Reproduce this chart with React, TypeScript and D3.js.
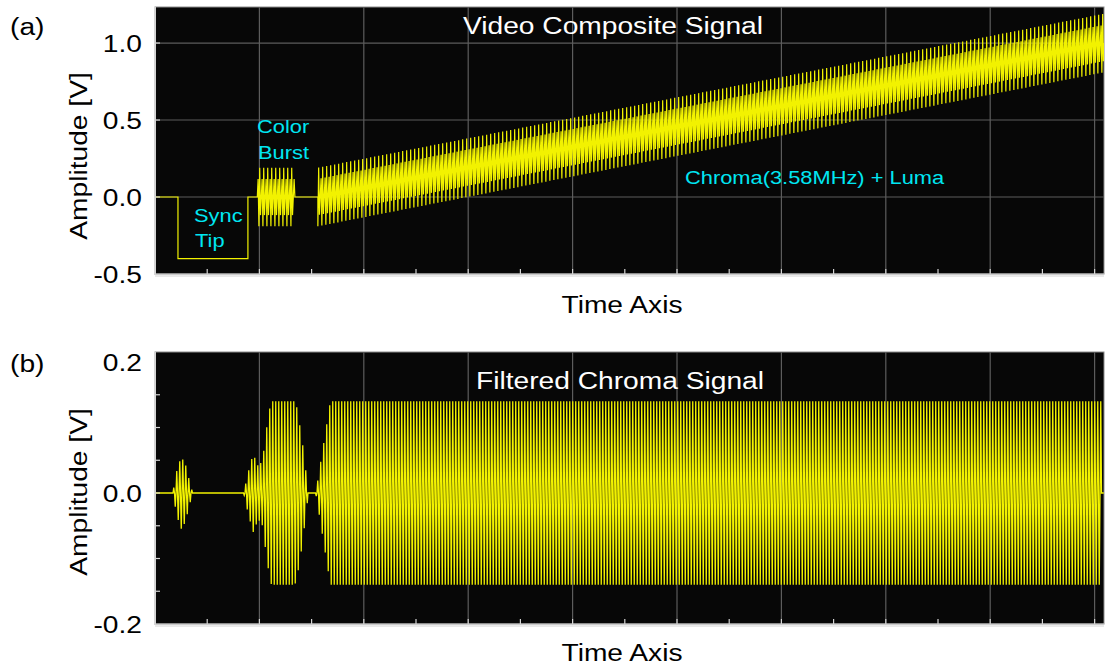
import React from "react";
import * as d3 from "d3";

// ---------- data ----------
// Panel (a): composite video line, piecewise segments (x in time-axis grid units)
const compSegStart = [0, 0.22, 0.89, 0.98, 1.34, 1.56];
const compSegEnd = [0.22, 0.89, 0.98, 1.34, 1.56, 9.09];
const compLevelStart = [0, -0.4, 0, 0, 0, 0];
const compLevelEnd = [0, -0.4, 0, 0, 0, 1.0];
const compChromaAmp = [0, 0, 0, 0.2, 0, 0.2];

// Panel (b): filtered chroma envelope (pre-clip amplitude) and clip level
const chromaEnvTime = [0, 0.17, 0.21, 0.25, 0.29, 0.32, 0.36, 0.85, 0.89, 0.94, 0.99, 1.03, 1.07, 1.10, 1.13, 1.32, 1.36, 1.41, 1.47, 1.54, 1.59, 1.64, 1.69, 9.06, 9.07, 9.09];
const chromaEnvAmp = [0, 0, 0.035, 0.055, 0.045, 0.025, 0, 0, 0.03, 0.06, 0.04, 0.05, 0.1, 0.13, 0.15, 0.15, 0.13, 0.08, 0, 0, 0.05, 0.1, 0.15, 0.15, 0, 0];
const chromaClip = 0.14;

// axes
const xDomain = [0, 9.09];
const xMajorTicks = [1, 2, 3, 4, 5, 6, 7, 8, 9];
const xMinorTicks = [0.5, 1, 1.5, 2, 2.5, 3, 3.5, 4, 4.5, 5, 5.5, 6, 6.5, 7, 7.5, 8, 8.5, 9];
const yTicksA = [-0.5, 0, 0.5, 1.0];
const yGridA = [0, 0.5, 1.0];
const yTicksB = [-0.2, 0, 0.2];
const yMinorB = [-0.15, -0.1, -0.05, 0, 0.05, 0.1, 0.15];

const FONT = "'Liberation Sans', Arial, Helvetica, sans-serif";
const SX = 1.15;

const L = 155, R = 1104;
const A_TOP = 7, A_BOT = 274;
const B_TOP = 352, B_BOT = 624;

const xScale = d3.scaleLinear().domain(xDomain).range([L, R]);
const yA = d3.scaleLinear().domain([-0.5, 1.234]).range([A_BOT, A_TOP]);
const yB = d3.scaleLinear().domain([-0.2, 0.2153]).range([B_BOT, B_TOP]);

function compositeSamples(): [number, number][] {
  const ds = xScale.invert(L + 0.8) - xScale.invert(L);
  const theta = 2 * Math.PI * 0.4;
  const pts: [number, number][] = [];
  let k = 0;
  for (let i = 0; i < compSegStart.length; i++) {
    const s = compSegStart[i], e = compSegEnd[i];
    const lv = (t: number) => compLevelStart[i] + (compLevelEnd[i] - compLevelStart[i]) * (t - s) / (e - s);
    if (compChromaAmp[i] === 0) {
      pts.push([s, lv(s)], [e, lv(e)]);
    } else {
      pts.push([s, lv(s)]);
      for (let t = s; t <= e; t += ds) {
        pts.push([t, lv(t) + compChromaAmp[i] * Math.sin(k * theta)]);
        k++;
      }
      pts.push([e, lv(e)]);
    }
  }
  return pts;
}

function chromaSamples(): [number, number][] {
  const ds = xScale.invert(L + 0.75) - xScale.invert(L);
  const env = d3.scaleLinear().domain(chromaEnvTime).range(chromaEnvAmp).clamp(true);
  const theta = 2 * Math.PI * 0.25;
  const pts: [number, number][] = [];
  let k = 0;
  for (let t = xDomain[0]; t <= xDomain[1]; t += ds) {
    const v = env(t) * Math.sin(k * theta);
    pts.push([t, Math.max(-chromaClip, Math.min(chromaClip, v))]);
    k++;
  }
  return pts;
}

function SText(props: { x: number; y: number; anchor?: string; size: number; fill?: string; rotate?: boolean; children: string }) {
  const { x, y, anchor = "start", size, fill = "#000", rotate, children } = props;
  const tr = rotate ? `translate(${x},${y}) rotate(-90) scale(${SX},1)` : `translate(${x},${y}) scale(${SX},1)`;
  return (
    <text transform={tr} textAnchor={anchor} fontFamily={FONT} fontSize={size} fill={fill}>
      {children}
    </text>
  );
}

function Frame(props: { top: number; bot: number; y: d3.ScaleLinear<number, number>; yTicks: number[]; yGrid: number[]; yMinor: number[]; clipId: string; path: string; lineWidth: number; title: string; titleX: number; titleY: number; tag: string; tagY: number; tickFmt: (v: number) => string; axisY: number; ampY: number; children?: React.ReactNode }) {
  const { top, bot, y } = props;
  return (
    <g>
      <defs>
        <clipPath id={props.clipId}>
          <rect x={L} y={top} width={R - L} height={bot - top} />
        </clipPath>
      </defs>
      <rect x={L} y={top} width={R - L} height={bot - top} fill="#070707" stroke="#8c8c8c" strokeWidth={1} />
      {xMajorTicks.map((t) => (
        <line key={"vg" + t} x1={xScale(t)} x2={xScale(t)} y1={top} y2={bot} stroke="#5c5c5c" strokeWidth={1.2} />
      ))}
      {props.yGrid.map((v) => (
        <line key={"hg" + v} x1={L} x2={R} y1={y(v)} y2={y(v)} stroke="#5c5c5c" strokeWidth={1.2} />
      ))}
      <g clipPath={`url(#${props.clipId})`}>
        <path d={props.path} fill="none" stroke="#f2f200" strokeWidth={props.lineWidth} strokeLinejoin="miter" />
      </g>
      {props.children}
      {/* axes */}
      <line x1={L} x2={L} y1={top} y2={bot + 1} stroke="#d4d4d4" strokeWidth={2} />
      <line x1={L} x2={R} y1={bot} y2={bot} stroke="#d4d4d4" strokeWidth={1} />
      <line x1={L} x2={R} y1={bot + 2} y2={bot + 2} stroke="#d4d4d4" strokeWidth={1} />
      {xMinorTicks.map((t) => (
        <line key={"xt" + t} x1={xScale(t)} x2={xScale(t)} y1={bot} y2={bot - 5} stroke="#d4d4d4" strokeWidth={1.2} />
      ))}
      {props.yMinor.map((v) => (
        <line key={"yt" + v} x1={L} x2={L + 5} y1={y(v)} y2={y(v)} stroke="#d4d4d4" strokeWidth={1.2} />
      ))}
      {props.yTicks.map((v) => (
        <SText key={"yl" + v} x={142} y={y(v) + 8.8} anchor="end" size={24.5}>
          {props.tickFmt(v)}
        </SText>
      ))}
      <SText x={props.titleX} y={props.titleY} anchor="middle" size={24.5} fill="#ffffff">
        {props.title}
      </SText>
      <SText x={10} y={props.tagY} size={24.5}>{props.tag}</SText>
      <SText x={622} y={props.axisY} anchor="middle" size={24.5}>Time Axis</SText>
      <SText x={87} y={props.ampY} anchor="middle" size={24.5} rotate>Amplitude [V]</SText>
    </g>
  );
}

export default function App() {
  const lineA = d3.line<[number, number]>().x((d) => xScale(d[0])).y((d) => yA(d[1]));
  const lineB = d3.line<[number, number]>().x((d) => xScale(d[0])).y((d) => yB(d[1]));
  const pathA = lineA(compositeSamples()) || "";
  const pathB = lineB(chromaSamples()) || "";
  const fmt = (v: number) => d3.format(".1f")(v).replace("−", "-");
  const cyan = "#00e6f2";
  return (
    <svg width={1105} height={666} style={{ position: "absolute", left: 0, top: 0, background: "#fff" }}>
      <Frame top={A_TOP} bot={A_BOT} y={yA} yTicks={yTicksA} yGrid={yGridA} yMinor={yGridA} clipId="clipA" path={pathA} lineWidth={1.2}
        title="Video Composite Signal" titleX={613} titleY={34} tag="(a)" tagY={35} tickFmt={fmt} axisY={313} ampY={156}>
        <SText x={257} y={133} size={19} fill={cyan}>Color</SText>
        <SText x={258} y={159} size={19} fill={cyan}>Burst</SText>
        <SText x={194} y={222} size={19} fill={cyan}>Sync</SText>
        <SText x={195} y={247} size={19} fill={cyan}>Tip</SText>
        <SText x={685} y={184} size={19} fill={cyan}>Chroma(3.58MHz) + Luma</SText>
      </Frame>
      <Frame top={B_TOP} bot={B_BOT} y={yB} yTicks={yTicksB} yGrid={[]} yMinor={yMinorB} clipId="clipB" path={pathB} lineWidth={1.3}
        title="Filtered Chroma Signal" titleX={620} titleY={389} tag="(b)" tagY={372} tickFmt={fmt} axisY={661} ampY={492} />
    </svg>
  );
}
